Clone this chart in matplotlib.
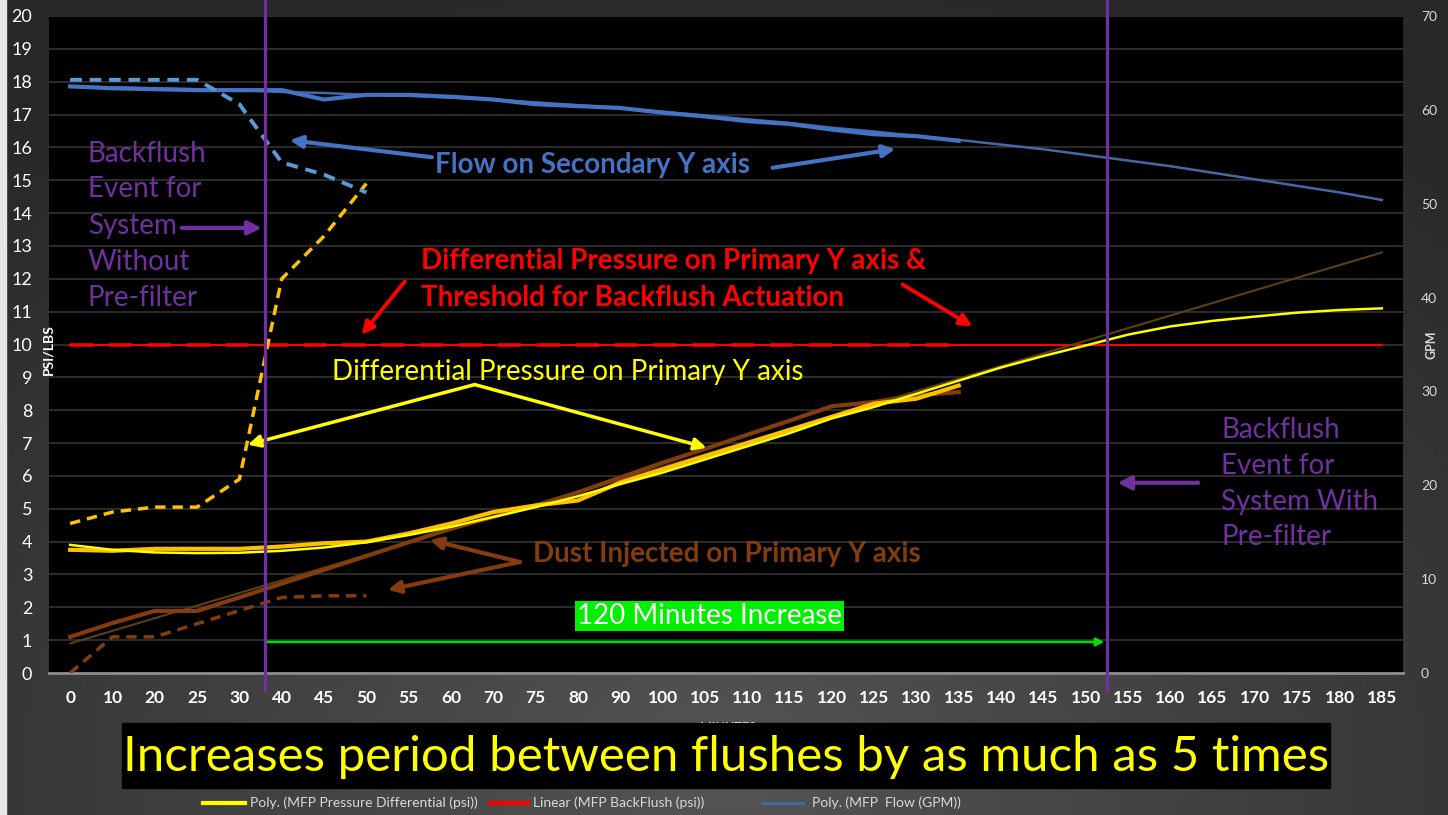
import numpy as np
import matplotlib
matplotlib.use("Agg")
import matplotlib.pyplot as plt
from matplotlib import font_manager
from matplotlib.patches import Rectangle
from matplotlib.lines import Line2D

plt.rcParams['font.family'] = ['Lato', 'DejaVu Sans']

# categories (minutes) - plotted as evenly spaced categories like Excel
minutes = [0, 10, 20, 25, 30, 40, 45, 50, 55, 60, 70, 75, 80, 90, 100, 105, 110,
           115, 120, 125, 130, 135, 140, 145, 150, 155, 160, 165, 170, 175, 180, 185]

# pressure differential (psi), with pre-filter, 0..135
dp_with = [3.75, 3.72, 3.78, 3.78, 3.78, 3.85, 3.95, 4.0, 4.25, 4.55, 4.9, 5.1,
           5.25, 5.8, 6.2, 6.6, 7.0, 7.4, 7.8, 8.2, 8.35, 8.75]
# pressure differential without pre-filter, 0..50
dp_without = [4.55, 4.9, 5.05, 5.05, 5.9, 12.0, 13.3, 14.9]
# poly trend of pressure differential, full range
dp_trend = [3.9, 3.75, 3.67, 3.65, 3.66, 3.72, 3.82, 3.98, 4.2, 4.45, 4.75, 5.05,
            5.38, 5.75, 6.1, 6.5, 6.9, 7.3, 7.75, 8.1, 8.5, 8.9, 9.3, 9.65,
            9.97, 10.3, 10.55, 10.72, 10.85, 10.97, 11.05, 11.1]

# dust injected (lbs)
dust_with = [1.1, 1.52, 1.89, 1.89, 2.3, 2.72, 3.14, 3.56, 3.98, 4.4, 4.75, 5.1,
             5.5, 5.95, 6.4, 6.82, 7.25, 7.68, 8.12, 8.25, 8.45, 8.55]
dust_without = [0.0, 1.1, 1.1, 1.5, 1.9, 2.3, 2.35, 2.35]
dust_trend_ends = [0.9, 12.8]

# backflush threshold (psi)
backflush = [10.0] * 22
backflush_trend_ends = [10.0, 10.0]

# flow (GPM) - secondary axis
flow_with = [62.5, 62.3, 62.2, 62.1, 62.1, 62.1, 61.1, 61.6, 61.6, 61.4, 61.1, 60.6,
             60.4, 60.2, 59.7, 59.3, 58.8, 58.5, 57.9, 57.4, 57.2, 56.7]
flow_without = [63.2, 63.2, 63.2, 63.2, 60.6, 54.4, 53.1, 51.2]
flow_trend = [62.5, 62.4, 62.3, 62.2, 62.1, 61.9, 61.8, 61.6, 61.5, 61.3, 61.1, 60.8,
              60.5, 60.2, 59.8, 59.4, 59.0, 58.6, 58.1, 57.7, 57.2, 56.8, 56.3, 55.8,
              55.2, 54.6, 54.0, 53.3, 52.6, 51.9, 51.2, 50.4]

# backflush events (category position)
event_without = 4.6
event_with = 24.5

W, H = 1448, 815
fig = plt.figure(figsize=(W / 100, H / 100), dpi=100)

# dark gradient background
bg = fig.add_axes([0, 0, 1, 1], zorder=-10)
bg.axis('off')
gx, gy = np.meshgrid(np.linspace(0, 1, 300), np.linspace(0, 1, 200))
r = np.sqrt(((gx - 0.5) / 0.75) ** 2 + ((gy - 0.05) / 1.0) ** 2)
r = np.clip(r, 0, 1)
shade = 0.33 - 0.17 * r
bg.imshow(np.dstack([shade, shade, shade]), extent=[0, 1, 0, 1], aspect='auto',
          origin='lower')
bg.set_xlim(0, 1)
bg.set_ylim(0, 1)
fig.patches.append(Rectangle((0, 0), 6 / W, 1, transform=fig.transFigure,
                             color='#e6e6e6', zorder=-5))

ax = fig.add_axes([49 / W, 1 - 673 / H, (1403 - 49) / W, (673 - 16) / H])
ax.set_facecolor('black')
x = np.arange(len(minutes))
xw = x[:len(dp_with)]
xo = x[:len(dp_without)]

# primary axis series
ax.plot([x[0], x[-1]], backflush_trend_ends, color='#FF0000', lw=1.5, zorder=3)
ax.plot(xw, backflush, color='#D00000', lw=2.8, ls=(0, (6, 4)), zorder=2)
ax.plot([x[0], x[-1]], dust_trend_ends, color='#5C3F12', lw=1.5, zorder=3)
ax.plot(xw, dust_with, color='#843C0C', lw=3, zorder=4)
ax.plot(xo, dust_without, color='#843C0C', lw=2.5, ls=(0, (3, 2)), zorder=4)
ax.plot(xw, dp_with, color='#FFC000', lw=3, zorder=5)
ax.plot(xo, dp_without, color='#FFC000', lw=2.5, ls=(0, (3, 2)), zorder=5)
ax.plot(x, dp_trend, color='#FFFF00', lw=1.8, zorder=6)

ax.set_xlim(-0.5, len(minutes) - 0.5)
ax.set_ylim(0, 20)
ax.set_yticks(range(0, 21))
ax.set_xticks(x)
ax.set_xticklabels(minutes)
ax.yaxis.grid(True, color='#333333', lw=1.2)
ax.set_axisbelow(True)
for s in ['top', 'left', 'right']:
    ax.spines[s].set_visible(False)
ax.spines['bottom'].set_color('#8c8c8c')
ax.spines['bottom'].set_linewidth(2)
ax.tick_params(axis='y', length=0, pad=12, labelsize=13, labelcolor='white')
ax.tick_params(axis='x', length=0, pad=12, labelsize=12.5, labelcolor='white')
for t in ax.get_xticklabels():
    t.set_fontweight('bold')

# secondary axis: flow
ax2 = ax.twinx()
ax2.plot(x, flow_trend, color='#4468A8', lw=1.8, zorder=3)
ax2.plot(xw, flow_with, color='#4472C4', lw=3, zorder=4)
ax2.plot(xo, flow_without, color='#5B9BD5', lw=2.8, ls=(0, (3, 2)), zorder=4)
ax2.set_ylim(0, 70)
ax2.set_yticks(range(0, 71, 10))
for s in ax2.spines.values():
    s.set_visible(False)
ax2.tick_params(axis='y', length=0, pad=13, labelsize=10, labelcolor='#d9d9d9')

# backflush event markers
for ev in [event_without, event_with]:
    ax2.axvline(ev, ymin=-0.026, ymax=1.025, color='#7030A0', lw=2.3,
                clip_on=False, zorder=8)


def arrow(a, tip, start, color, lw, ms=18):
    a.annotate('', xy=tip, xytext=start,
               arrowprops=dict(arrowstyle='-|>', color=color, lw=lw,
                               mutation_scale=ms, shrinkA=0, shrinkB=0), zorder=7)


FS = 20

# flow annotation
ax.text(12.35, 15.45, 'Flow on Secondary Y axis', color='#4472C4', fontsize=FS,
        fontweight='bold', ha='center', va='center', zorder=7)
arrow(ax, (5.19, 16.22), (8.55, 15.70), '#4472C4', 3)
arrow(ax, (19.5, 15.95), (16.6, 15.38), '#4472C4', 3)

# threshold annotation
ax.text(8.29, 12.53, 'Differential Pressure on Primary Y axis &', color='#FF0000',
        fontsize=FS, fontweight='bold', ha='left', va='center', zorder=7)
ax.text(8.29, 11.43, 'Threshold for Backflush Actuation', color='#FF0000',
        fontsize=FS, fontweight='bold', ha='left', va='center', zorder=7)
arrow(ax, (6.89, 10.30), (7.91, 11.92), '#FF0000', 2.8)
arrow(ax, (21.32, 10.55), (19.67, 11.83), '#FF0000', 2.8)

# pressure annotation
ax.text(11.76, 9.15, 'Differential Pressure on Primary Y axis', color='#FFFF00',
        fontsize=FS, ha='center', va='center', zorder=7)
arrow(ax, (4.20, 6.95), (9.56, 8.78), '#FFFF00', 2.5)
arrow(ax, (15.04, 6.86), (9.56, 8.78), '#FFFF00', 2.5)

# dust annotation
ax.text(15.51, 3.63, 'Dust Injected on Primary Y axis', color='#843C0C', fontsize=FS,
        fontweight='bold', ha='center', va='center', zorder=7)
arrow(ax, (8.50, 4.05), (10.63, 3.38), '#843C0C', 3)
arrow(ax, (7.51, 2.53), (10.63, 3.38), '#843C0C', 3)

# backflush event labels
left_lines = ['Backflush', 'Event for', 'System', 'Without', 'Pre-filter']
left_y = [15.79, 14.73, 13.62, 12.52, 11.43]
for s, yy in zip(left_lines, left_y):
    ax.text(0.42, yy, s, color='#7030A0', fontsize=FS, ha='left', va='center', zorder=7)
arrow(ax, (4.53, 13.55), (2.64, 13.55), '#7030A0', 3, 20)

right_lines = ['Backflush', 'Event for', 'System With', 'Pre-filter']
right_y = [7.41, 6.31, 5.21, 4.15]
for s, yy in zip(right_lines, right_y):
    ax.text(27.2, yy, s, color='#7030A0', fontsize=FS, ha='left', va='center', zorder=7)
arrow(ax, (24.75, 5.79), (26.66, 5.79), '#7030A0', 3, 20)

# 120 minutes increase
ax.text(15.11, 1.74, '120 Minutes Increase', color='white', fontsize=FS, ha='center',
        va='center', zorder=7,
        bbox=dict(facecolor='#00F000', edgecolor='none', pad=1.5))
arrow(ax, (24.44, 0.945), (4.65, 0.945), '#00E000', 1.8, 12)

# axis titles
fig.text(48 / W, 1 - 350 / H, 'PSI/LBS', rotation=90, color='white', fontsize=10,
         fontweight='bold', ha='center', va='center')
fig.text(1432 / W, 1 - 345 / H, 'GPM', rotation=90, color='#d9d9d9', fontsize=9,
         fontweight='bold', ha='center', va='center')
fig.text(728 / W, 1 - 728 / H, 'MINUTES', color='white', fontsize=9,
         fontweight='bold', ha='center', va='center', zorder=2)

# banner
fig.patches.append(Rectangle((122 / W, 1 - 788 / H), (1330 - 122) / W, 65 / H,
                             transform=fig.transFigure, color='black', zorder=5))
names = {f.name for f in font_manager.fontManager.ttflist}
if 'Liberation Sans Narrow' in names:
    bfam, bsize = ['Liberation Sans Narrow', 'DejaVu Sans'], 39
else:
    bfam, bsize = ['Lato', 'DejaVu Sans'], 35.5
fig.text(726 / W, 1 - 757 / H, 'Increases period between flushes by as much as 5 times',
         color='#FFFF00', fontsize=bsize, family=bfam, ha='center', va='center', zorder=6)

# legend row
leg = [('#FFFF00', 203, 245, 250, 'Poly. (MFP Pressure Differential (psi))', 3),
       ('#FF0000', 490, 528, 533, 'Linear (MFP BackFlush (psi))', 3),
       ('#4468A8', 762, 803, 812, 'Poly. (MFP  Flow (GPM))', 2)]
ly = 1 - 803 / H
for c, x0, x1, tx, lab, lw in leg:
    fig.add_artist(Line2D([x0 / W, x1 / W], [ly, ly], color=c, lw=lw,
                          transform=fig.transFigure))
    fig.text(tx / W, ly, lab, color='#d9d9d9', fontsize=10, ha='left', va='center')

fig.savefig('out.png', dpi=100, facecolor=fig.get_facecolor())
